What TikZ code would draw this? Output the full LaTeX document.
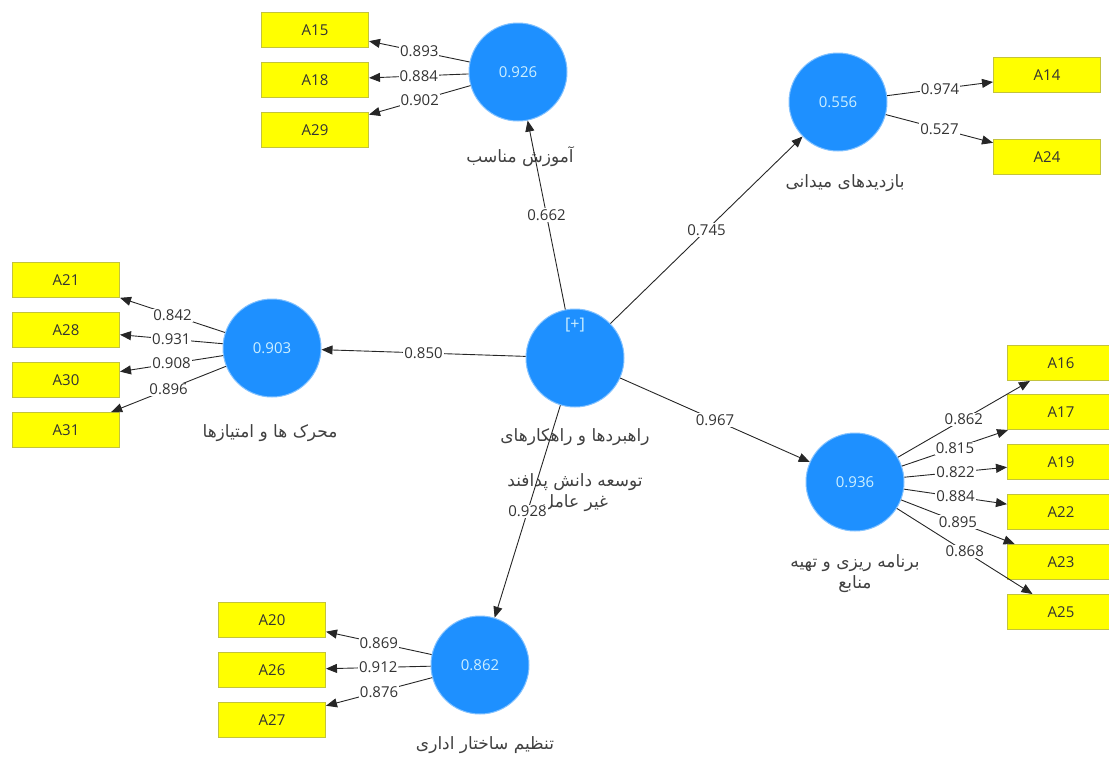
\documentclass[tikz,border=0pt]{standalone}
\usepackage{fontspec}
\setmainfont{Open Sans}
\newfontfamily\farsi[Script=Arabic]{DejaVu Sans}
\TeXXeTstate=1
\usetikzlibrary{arrows.meta}
\definecolor{lvblue}{RGB}{30,144,255}
\definecolor{lvtext}{RGB}{205,240,255}
\definecolor{mvyellow}{RGB}{255,255,0}
\definecolor{mvborder}{RGB}{195,195,60}
\tikzset{%
	latent/.style={circle,fill=lvblue,draw=lvblue!55!white,line width=1pt,minimum size=98pt,inner sep=0pt,text=lvtext,font=\fontsize{15}{17}\selectfont}
}
\tikzset{%
	indicator/.style={rectangle,fill=mvyellow,draw=mvborder,line width=1pt,minimum width=107pt,minimum height=35pt,inner sep=0pt,text=black!80,font=\fontsize{15}{17}\selectfont}
}
\tikzset{%
	path_arrow/.style={draw=black!85,line width=0.9pt,-{Triangle[length=11pt,width=9pt]}}
}
\tikzset{%
	coef/.style={midway,fill=white,inner sep=1pt,text=black!80,font=\fontsize{15}{17}\selectfont}
}
\tikzset{%
	lvname/.style={text=black!75,inner sep=0pt,font=\farsi\fontsize{17}{19}\selectfont}
}

\begin{document}
\begin{tikzpicture}[x=1pt,y=-1pt]
		\clip (0,0) rectangle (1109,756);

		%Latent variables
		\node [latent] (central) at (575,358) {};
		\node [text=lvtext,font=\fontsize{16}{18}\selectfont] (plus) at (575,325) {[+]};
		\node [latent] (train) at (518,72) {0.926};
		\node [latent] (visit) at (838,102) {0.556};
		\node [latent] (motiv) at (272,348) {0.903};
		\node [latent] (plan) at (855,482) {0.936};
		\node [latent] (admin) at (480,665) {0.862};

		%Latent variable names
		\node [lvname] (train_name) at (520,157) {\beginR آموزش مناسب\endR};
		\node [lvname] (visit_name) at (845,183) {\beginR بازدیدهای میدانی\endR};
		\node [lvname] (motiv_name) at (270,433) {\beginR محرک ها و امتیازها\endR};
		\node [lvname] (central_name1) at (575,437) {\beginR راهبردها و راهکارهای\endR};
		\node [lvname] (central_name2) at (575,482) {\beginR توسعه دانش پدافند\endR};
		\node [lvname] (central_name3) at (575,503) {\beginR غیر عامل\endR};
		\node [lvname] (plan_name1) at (855,563) {\beginR برنامه ریزی و تهیه\endR};
		\node [lvname] (plan_name2) at (855,584) {\beginR منابع\endR};
		\node [lvname] (admin_name) at (485,745) {\beginR تنظیم ساختار اداری\endR};

		%Indicators
		\node [indicator] (A15) at (315,30) {A15};
		\node [indicator] (A18) at (315,80) {A18};
		\node [indicator] (A29) at (315,130) {A29};
		\node [indicator] (A14) at (1047,75) {A14};
		\node [indicator] (A24) at (1047,157) {A24};
		\node [indicator] (A21) at (66,280) {A21};
		\node [indicator] (A28) at (66,330) {A28};
		\node [indicator] (A30) at (66,380) {A30};
		\node [indicator] (A31) at (66,430) {A31};
		\node [indicator] (A16) at (1061,363) {A16};
		\node [indicator] (A17) at (1061,412) {A17};
		\node [indicator] (A19) at (1061,462) {A19};
		\node [indicator] (A22) at (1061,512) {A22};
		\node [indicator] (A23) at (1061,562) {A23};
		\node [indicator] (A25) at (1061,612) {A25};
		\node [indicator] (A20) at (272,620) {A20};
		\node [indicator] (A26) at (272,670) {A26};
		\node [indicator] (A27) at (272,720) {A27};

		%Inner model
		\draw [path_arrow] (central) -- node[coef]{0.662} (train);
		\draw [path_arrow] (central) -- node[coef]{0.745} (visit);
		\draw [path_arrow] (central) -- node[coef]{0.850} (motiv);
		\draw [path_arrow] (central) -- node[coef]{0.967} (plan);
		\draw [path_arrow] (central) -- node[coef]{0.928} (admin);

		%Outer model
		\draw [path_arrow] (train) -- node[coef]{0.893} (A15);
		\draw [path_arrow] (train) -- node[coef]{0.884} (A18);
		\draw [path_arrow] (train) -- node[coef]{0.902} (A29);
		\draw [path_arrow] (visit) -- node[coef]{0.974} (A14);
		\draw [path_arrow] (visit) -- node[coef]{0.527} (A24);
		\draw [path_arrow] (motiv) -- node[coef]{0.842} (A21);
		\draw [path_arrow] (motiv) -- node[coef]{0.931} (A28);
		\draw [path_arrow] (motiv) -- node[coef]{0.908} (A30);
		\draw [path_arrow] (motiv) -- node[coef]{0.896} (A31);
		\draw [path_arrow] (plan) -- node[coef]{0.862} (A16);
		\draw [path_arrow] (plan) -- node[coef]{0.815} (A17);
		\draw [path_arrow] (plan) -- node[coef]{0.822} (A19);
		\draw [path_arrow] (plan) -- node[coef]{0.884} (A22);
		\draw [path_arrow] (plan) -- node[coef]{0.895} (A23);
		\draw [path_arrow] (plan) -- node[coef]{0.868} (A25);
		\draw [path_arrow] (admin) -- node[coef]{0.869} (A20);
		\draw [path_arrow] (admin) -- node[coef]{0.912} (A26);
		\draw [path_arrow] (admin) -- node[coef]{0.876} (A27);

	\end{tikzpicture}
\end{document}
